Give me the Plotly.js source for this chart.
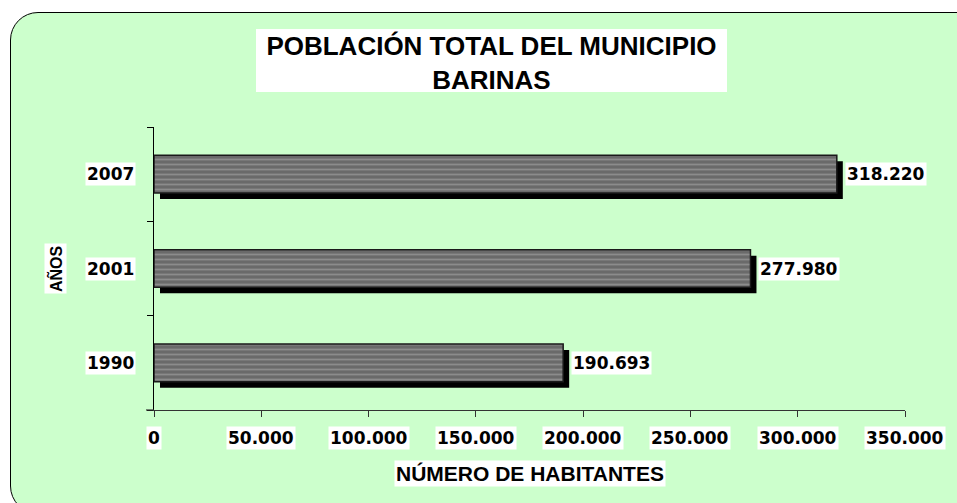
<!DOCTYPE html>
<html>
<head>
<meta charset="utf-8">
<script src="https://cdn.plot.ly/plotly-3.0.1.min.js"></script>
<style>
  html, body { margin: 0; padding: 0; background: #ffffff; }
  #frame {
    position: absolute; left: 10px; top: 12px; width: 975px; height: 500px;
    background: #CCFFCC; border: 1.5px solid #000; border-radius: 28px;
  }
  #chart { position: absolute; left: 0; top: 0; width: 957px; height: 503px; }
</style>
</head>
<body>
<div id="frame"></div>
<div id="chart"></div>
<script>
// ---- data ----
const years = ['1990', '2001', '2007'];
const population = [190693, 277980, 318220];
const xTickVals = [0, 50000, 100000, 150000, 200000, 250000, 300000, 350000];
const xTickText = ['0', '50.000', '100.000', '150.000', '200.000', '250.000', '300.000', '350.000'];
const chartTitle = 'POBLACIÓN TOTAL DEL MUNICIPIO<br>BARINAS';
const xTitle = 'NÚMERO DE HABITANTES';
const yTitle = 'AÑOS';

// ---- layout geometry (pixels) ----
const W = 957, H = 503;
const M = { l: 154, r: 52, t: 127, b: 93 };
const plotW = W - M.l - M.r, plotH = H - M.t - M.b;
const xMax = 350000;
const px2x = p => (p - M.l) / plotW;          // page px -> paper x
const py2y = p => (H - M.b - p) / plotH;      // page py -> paper y
const barWidth = 0.4;
const shadowPx = 6;
const shadowDx = shadowPx / plotW * xMax;      // data units
const shadowDy = shadowPx / (plotH / years.length); // category units

function fmt(v) { return String(v).replace(/\B(?=(\d{3})+(?!\d))/g, '.'); }

const labelFont = { family: 'DejaVu Sans, Verdana, sans-serif', size: 17, color: '#000', weight: 'bold' };

const shadow = {
  type: 'bar', orientation: 'h', y: years, x: population,
  base: population.map(() => shadowDx),
  width: barWidth, offset: -barWidth / 2 - shadowDy,
  marker: { color: '#000', line: { width: 0 } },
  hoverinfo: 'skip', showlegend: false
};
const bars = {
  type: 'bar', orientation: 'h', y: years, x: population,
  width: barWidth, offset: -barWidth / 2,
  marker: {
    color: '#6f6f6f',
    line: { color: '#1a1a1a', width: 1.5 },
    pattern: { shape: '-', fgcolor: '#8c8c8c', bgcolor: '#6a6a6a', size: 5, solidity: 0.35, fillmode: 'replace' }
  },
  showlegend: false
};

const annotations = [];
// data labels (category axis: position by category index)
years.forEach((y, i) => annotations.push({
  xref: 'x', yref: 'y', x: population[i], y: i,
  xanchor: 'left', yanchor: 'middle', xshift: 8, showarrow: false,
  text: fmt(population[i]), font: labelFont, bgcolor: '#fff', borderpad: 1
}));
// x tick labels
xTickVals.forEach((v, i) => annotations.push({
  xref: 'x', yref: 'paper', x: v, y: 0, xanchor: 'center', yanchor: 'middle',
  yshift: -27.5, showarrow: false, text: xTickText[i], font: labelFont,
  bgcolor: '#fff', borderpad: 1
}));
// y tick labels
years.forEach((y, i) => annotations.push({
  xref: 'paper', yref: 'y', x: 0, y: i, xanchor: 'right', yanchor: 'middle',
  xshift: -18, showarrow: false, text: y, font: labelFont, bgcolor: '#fff', borderpad: 1
}));
// axis titles
annotations.push({
  xref: 'paper', yref: 'paper', x: 0.5, y: py2y(473.5), xanchor: 'center', yanchor: 'middle',
  showarrow: false, text: xTitle, bgcolor: '#fff', borderpad: 1,
  font: { family: 'Liberation Sans, Arial, sans-serif', size: 21, color: '#000', weight: 'bold' }
});
annotations.push({
  xref: 'paper', yref: 'paper', x: px2x(55), y: py2y(269), xanchor: 'center', yanchor: 'middle',
  showarrow: false, text: yTitle, textangle: -90, bgcolor: '#fff', borderpad: 1,
  font: { family: 'Liberation Sans, Arial, sans-serif', size: 16, color: '#000', weight: 'bold' }
});

const layout = {
  width: W, height: H,
  margin: M,
  paper_bgcolor: 'rgba(0,0,0,0)', plot_bgcolor: 'rgba(0,0,0,0)',
  barmode: 'overlay',
  title: {
    text: chartTitle, xref: 'container', yref: 'container',
    x: 491.5 / W, xanchor: 'center', y: 1 - 55 / H, yanchor: 'middle',
    font: { family: 'Liberation Sans, Arial, sans-serif', size: 26, color: '#000', weight: 'bold' }
  },
  xaxis: {
    range: [0, xMax], tickvals: xTickVals, showticklabels: false,
    ticks: 'outside', ticklen: 6, tickcolor: '#333', tickwidth: 1,
    showline: true, linecolor: '#333', linewidth: 1.2, showgrid: false, zeroline: false,
    fixedrange: true
  },
  yaxis: {
    type: 'category', categoryorder: 'array', categoryarray: years,
    range: [-0.5, years.length - 0.5], showticklabels: false,
    ticks: 'outside', tickson: 'boundaries', ticklen: 6, tickcolor: '#000', tickwidth: 1,
    showline: true, linecolor: '#000', linewidth: 1.2, showgrid: false, zeroline: false,
    fixedrange: true
  },
  shapes: [
    { type: 'rect', xref: 'paper', yref: 'paper', layer: 'below',
      x0: px2x(256), x1: px2x(727), y0: py2y(92), y1: py2y(29),
      fillcolor: '#fff', line: { width: 0 } },
    { type: 'line', xref: 'paper', yref: 'paper', x0: px2x(146), x1: 0, y0: 0, y1: 0,
      line: { color: '#333', width: 1.2 } }
  ],
  annotations: annotations
};

Plotly.newPlot('chart', [shadow, bars], layout, { displayModeBar: false, staticPlot: true });
</script>
</body>
</html>
